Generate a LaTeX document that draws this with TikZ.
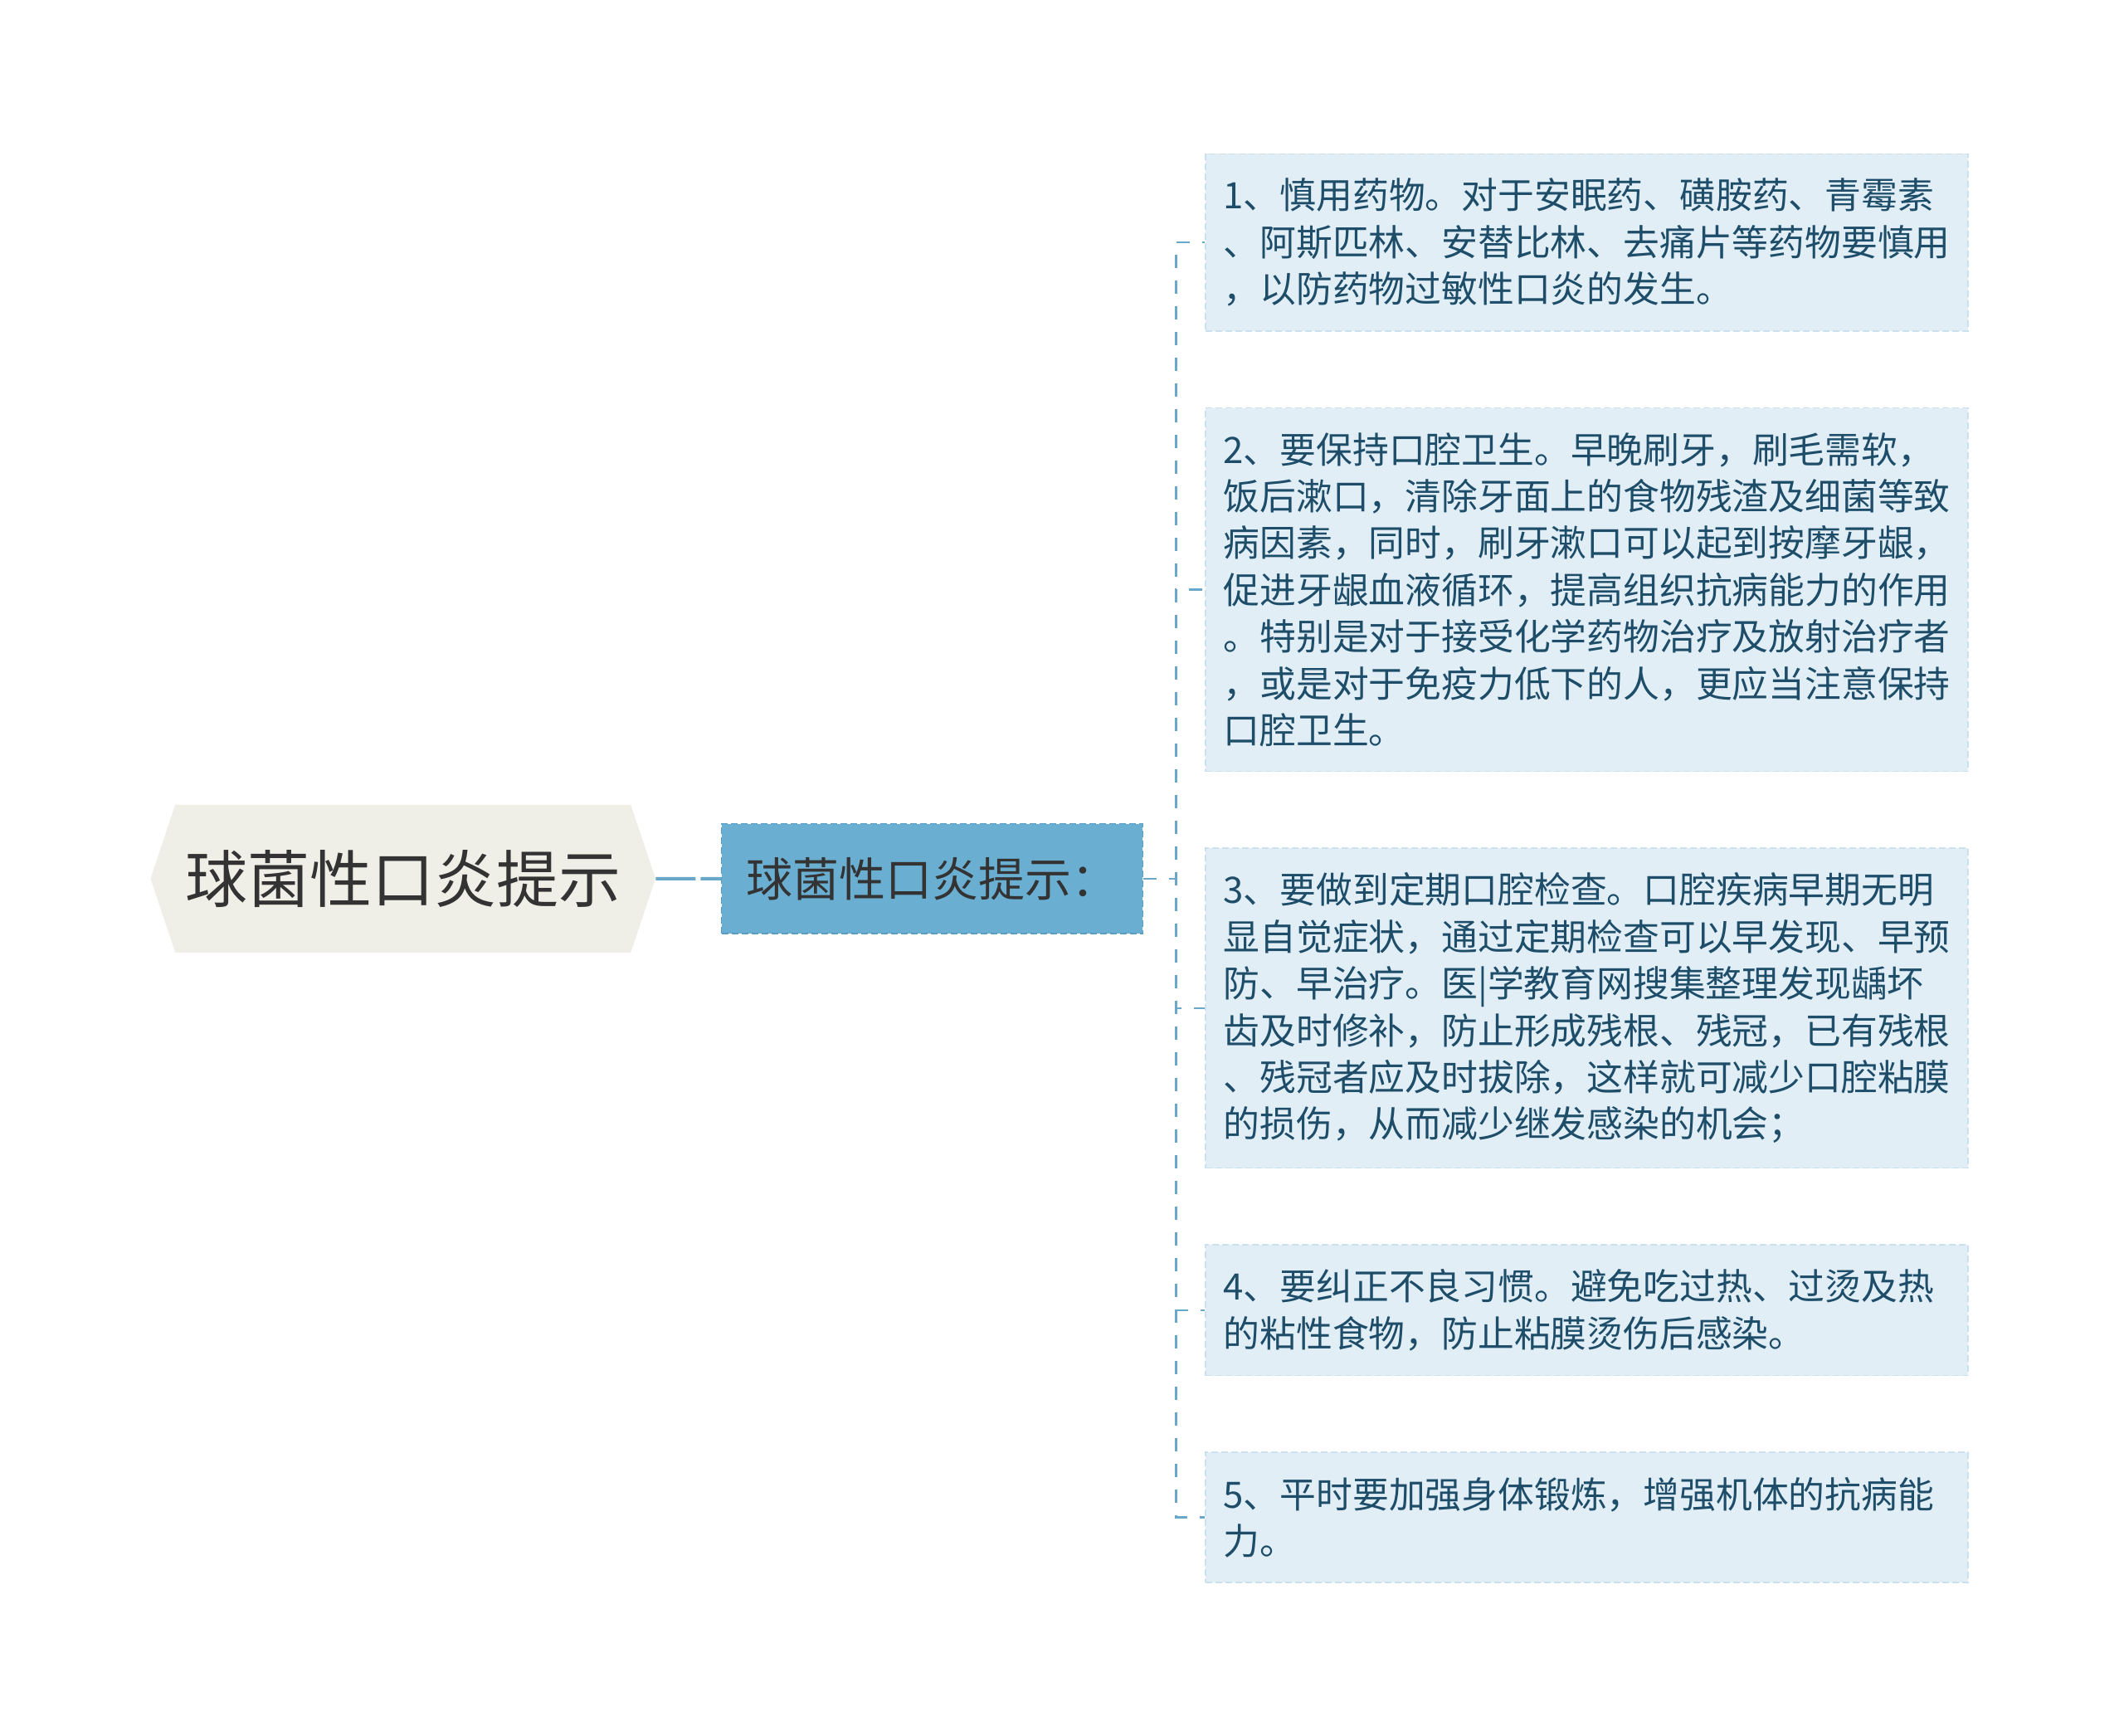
\documentclass[tikz,border=0pt]{standalone}
\usepackage{fontspec}
\setmainfont{Noto Sans CJK SC}
\usetikzlibrary{positioning,shapes.symbols}

\definecolor{titlefill}{HTML}{EFEFE7}
\definecolor{topicfill}{HTML}{6AAFD1}
\definecolor{topicline}{HTML}{5A9DC3}
\definecolor{leaffill}{HTML}{E1EEF6}
\definecolor{leafline}{HTML}{CCE1EE}
\definecolor{leaftext}{HTML}{1E4D69}
\definecolor{linkcol}{HTML}{6AA8CB}
\definecolor{inkgray}{HTML}{333333}

\begin{document}
\begin{tikzpicture}[
  x=0.8163pt, y=-0.8163pt,
  node distance=45.5pt,
  title/.style={signal, signal to=west and east, signal pointer angle=143, fill=titlefill, text=inkgray, font=\fontsize{37.5pt}{45pt}\selectfont, minimum height=89pt, inner xsep=6pt},
  topic/.style={draw=topicline, dash pattern=on 4pt off 2pt, line width=0.8pt, fill=topicfill, text=inkgray, font=\fontsize{28pt}{34pt}\selectfont, minimum width=253.9pt, minimum height=66.1pt},
  leaf/.style={draw=leafline, dash pattern=on 4pt off 2pt, line width=0.8pt, fill=leaffill, text=leaftext, font=\fontsize{21.9pt}{28.2pt}\selectfont, text width=438pt, align=left, inner xsep=10.8pt, inner ysep=14.8pt},
  link/.style={draw=linkcol, line width=1.2pt, dash pattern=on 8pt off 7.5pt}
]
\useasboundingbox[fill=white] (0,0) rectangle (1568,1281);

\node[title] (title) at (297.5,648.5) {球菌性口炎提示};
\node[topic, right=39.2pt of title] (topic) {球菌性口炎提示：};

\node[leaf] (leaf1) at (1171.5,179) {1、慎用药物。对于安眠药、磺胺药、青霉素\\、阿斯匹林、安替比林、去痛片等药物要慎用\\，以防药物过敏性口炎的发生。};
\node[leaf, below=of leaf1] (leaf2) {2、要保持口腔卫生。早晚刷牙，刷毛需软，\\饭后漱口，清除牙面上的食物残渣及细菌等致\\病因素，同时，刷牙漱口可以起到按摩牙龈，\\促进牙龈血液循环，提高组织抗病能力的作用\\。特别是对于接受化学药物治疗及放射治疗者\\，或是对于免疫力低下的人，更应当注意保持\\口腔卫生。};
\node[leaf, below=of leaf2] (leaf3) {3、要做到定期口腔检查。口腔疾病早期无明\\显自觉症状，通过定期检查可以早发现、早预\\防、早治疗。医|学教育网搜集整理发现龋坏\\齿及时修补，防止形成残根、残冠，已有残根\\、残冠者应及时拔除，这样就可减少口腔粘膜\\的损伤，从而减少继发感染的机会；};
\node[leaf, below=of leaf3] (leaf4) {4、要纠正不良习惯。避免吃过热、过烫及热\\的粘性食物，防止粘膜烫伤后感染。};
\node[leaf, below=of leaf4] (leaf5) {5、平时要加强身体锻炼，增强机体的抗病能\\力。};

\draw[link, line width=2pt, dash pattern=on 24pt off 3pt] (title) -- (topic);
\foreach \i in {1,...,5}
  \draw[link] (topic.east) -- ++(19.6pt,0) |- (leaf\i.west);

\end{tikzpicture}
\end{document}
